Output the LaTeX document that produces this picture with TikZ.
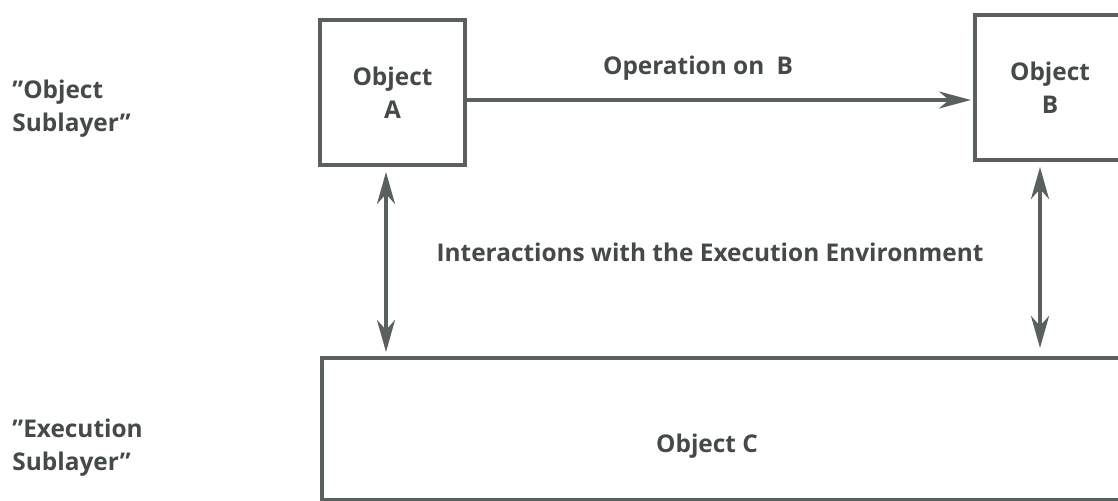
\documentclass[tikz,border=0pt]{standalone}
\usepackage{fontspec}
\setmainfont{Open Sans}
\usetikzlibrary{arrows.meta,calc}
\definecolor{ink}{HTML}{434A48}
\definecolor{rule}{HTML}{59605E}
\tikzset{
  lbl/.style={font=\bfseries\fontsize{12.2}{16.5}\selectfont, text=ink, inner sep=0pt},
  objbox/.style={draw=rule, line width=2pt, fill=white},
  conn/.style={draw=rule, line width=1.9pt,
    -{Stealth[length=16pt,width=8.5pt,inset=5pt]}},
  dbl/.style={draw=rule, line width=1.9pt,
    {Stealth[length=16pt,width=9pt,inset=5pt]}-{Stealth[length=16pt,width=9pt,inset=5pt]}},
}
\begin{document}
\begin{tikzpicture}[x=0.5pt, y=-0.5pt]
  \useasboundingbox (0,0) rectangle (1118,501);
  \clip (0,0) rectangle (1118,501);

  % layer captions
  \node[lbl, align=left, anchor=west] (objlayer) at (12,109) {”Object\\Sublayer”};
  \node[lbl, align=left, anchor=west] (execlayer) at (12,448) {”Execution\\Sublayer”};

  % objects
  \node[objbox, lbl, align=center, minimum width=72.5pt, minimum height=72.5pt]
    (A) at (392.5,92.5) {Object\\A};
  \node[objbox, lbl, align=center, minimum width=75pt, minimum height=72.5pt]
    (B) at (1050,87.5) {Object\\B};
  \node[objbox, minimum width=405pt, minimum height=71pt, inner sep=0pt]
    (C) at (727,429) {};
  \node[lbl] (Ctext) at (707,446) {Object C};

  % operation from A to B
  \coordinate (oprow) at (0,100);
  \draw[conn, shorten >=1pt] (A.east |- oprow) -- (B.west |- oprow);
  \node[lbl] (oplabel) at (698,68) {Operation on\enspace B};

  % interactions with the execution environment
  \coordinate (colA) at (386,0);
  \coordinate (colB) at (1040,0);
  \draw[dbl, shorten <=2.5pt, shorten >=2pt] (A.south -| colA) -- (C.north -| colA);
  \draw[dbl, shorten <=2.5pt, shorten >=4pt] (B.south -| colB) -- (C.north -| colB);
  \node[lbl] (envlabel) at (710,252) {Interactions with the Execution Environment};
\end{tikzpicture}
\end{document}
